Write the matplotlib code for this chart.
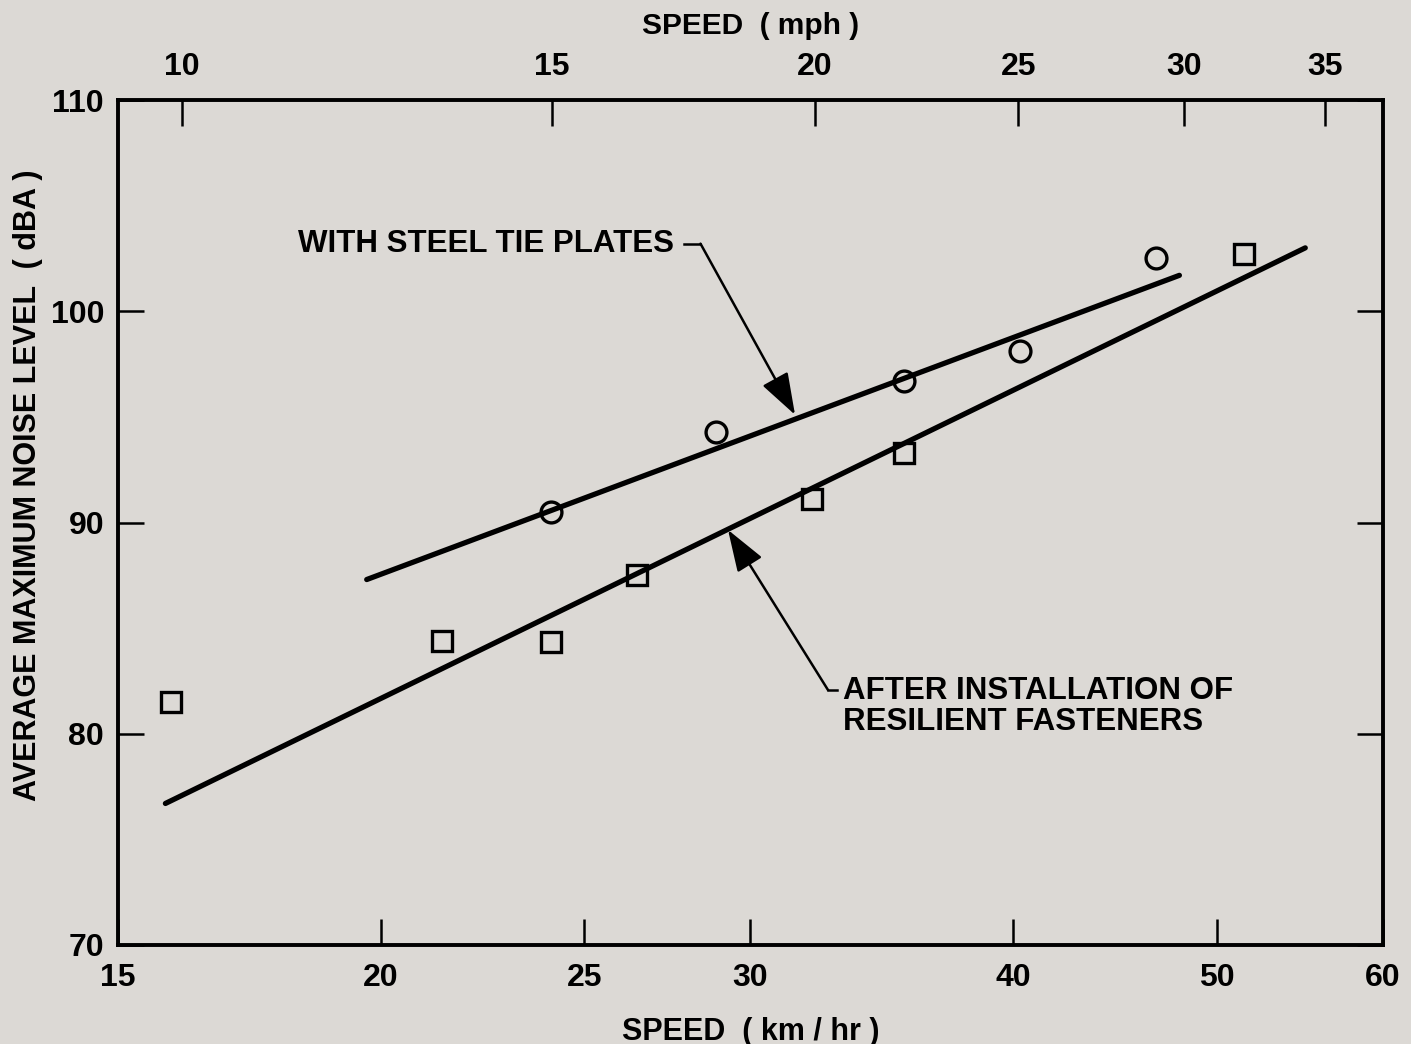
import numpy as np
import matplotlib
matplotlib.use("Agg")
import matplotlib.pyplot as plt
from matplotlib.ticker import NullLocator, FixedLocator, FixedFormatter

plt.rcParams['font.family'] = ['Liberation Sans', 'DejaVu Sans']

# data (speed in km/hr, noise in dBA)
steel_speed = [24.1, 28.9, 35.5, 40.3, 46.8]
steel_noise = [90.5, 94.3, 96.7, 98.1, 102.5]
resil_speed = [15.9, 21.4, 24.1, 26.5, 32.1, 35.5, 51.5]
resil_noise = [81.5, 84.4, 84.35, 87.5, 91.1, 93.3, 102.7]

# fitted lines (end points)
steel_fit_speed = [19.7, 48.0]
steel_fit_noise = [87.3, 101.7]
resil_fit_speed = [15.8, 55.1]
resil_fit_noise = [76.7, 103.0]

km_ticks = [15, 20, 25, 30, 40, 50, 60]
mph_ticks = [10, 15, 20, 25, 30, 35]
db_ticks = [70, 80, 90, 100, 110]
MPH_TO_KM = 1.609

bg = '#dcd9d5'
fig = plt.figure(figsize=(14.11, 10.44), dpi=100, facecolor=bg)
ax = fig.add_axes([118/1411, 1-945/1044, (1383-118)/1411, (945-100)/1044])
ax.set_facecolor(bg)

ax.set_xscale('log')
ax.set_xlim(15, 60)
ax.set_ylim(70, 110)

ax.plot(steel_fit_speed, steel_fit_noise, color='black', lw=3.8, solid_capstyle='round')
ax.plot(resil_fit_speed, resil_fit_noise, color='black', lw=3.8, solid_capstyle='round')
ax.plot(steel_speed, steel_noise, 'o', ms=15, mfc='none', mec='black', mew=2.4)
ax.plot(resil_speed, resil_noise, 's', ms=14, mfc='none', mec='black', mew=2.4)

ax.xaxis.set_major_locator(FixedLocator(km_ticks))
ax.xaxis.set_major_formatter(FixedFormatter([str(t) for t in km_ticks]))
ax.xaxis.set_minor_locator(NullLocator())
ax.set_yticks(db_ticks)
ax.set_yticklabels([str(t) for t in db_ticks])

for s in ax.spines.values():
    s.set_linewidth(2.8)

ax.tick_params(axis='both', direction='in', length=19, width=1.8, labelsize=23)
ax.tick_params(axis='y', right=True, pad=10)
ax.tick_params(axis='x', pad=13)
for lab in ax.get_xticklabels() + ax.get_yticklabels():
    lab.set_fontweight('bold')

top = ax.twiny()
top.set_xscale('log')
top.set_xlim(ax.get_xlim())
top.xaxis.set_major_locator(FixedLocator([m * MPH_TO_KM for m in mph_ticks]))
top.xaxis.set_major_formatter(FixedFormatter([str(m) for m in mph_ticks]))
top.xaxis.set_minor_locator(NullLocator())
top.tick_params(axis='x', direction='in', length=19, width=1.8, labelsize=23, pad=13)
for lab in top.get_xticklabels():
    lab.set_fontweight('bold')
top.set_xlabel('SPEED  ( mph )', fontsize=21.5, fontweight='bold', labelpad=13)

ax.set_xlabel('SPEED  ( km / hr )', fontsize=22, fontweight='bold', labelpad=17)
ax.set_ylabel('AVERAGE MAXIMUM NOISE LEVEL  ( dBA )', fontsize=22, fontweight='bold')
ax.yaxis.set_label_coords(-0.059, 0.544)

# annotations
ax.text(27.6, 103.2, 'WITH STEEL TIE PLATES', fontsize=22.5, fontweight='bold',
        ha='right', va='center')
ax.plot([27.9, 28.4], [103.2, 103.2], color='black', lw=1.8)
ax.annotate('', xy=(31.5, 95.1), xytext=(28.4, 103.2),
            arrowprops=dict(arrowstyle='-|>,head_length=1.3,head_width=0.45',
                            color='black', lw=1.8, mutation_scale=20, shrinkA=0, shrinkB=0))

ax.text(33.2, 81.3, 'AFTER INSTALLATION OF\nRESILIENT FASTENERS', fontsize=22.5,
        fontweight='bold', ha='left', va='center', linespacing=1.05)
ax.plot([32.66, 33.0], [82.07, 82.07], color='black', lw=1.8)
ax.annotate('', xy=(29.27, 89.65), xytext=(32.66, 82.07),
            arrowprops=dict(arrowstyle='-|>,head_length=1.3,head_width=0.45',
                            color='black', lw=1.8, mutation_scale=20, shrinkA=0, shrinkB=0))

fig.savefig('out.png', dpi=100, facecolor=bg)
